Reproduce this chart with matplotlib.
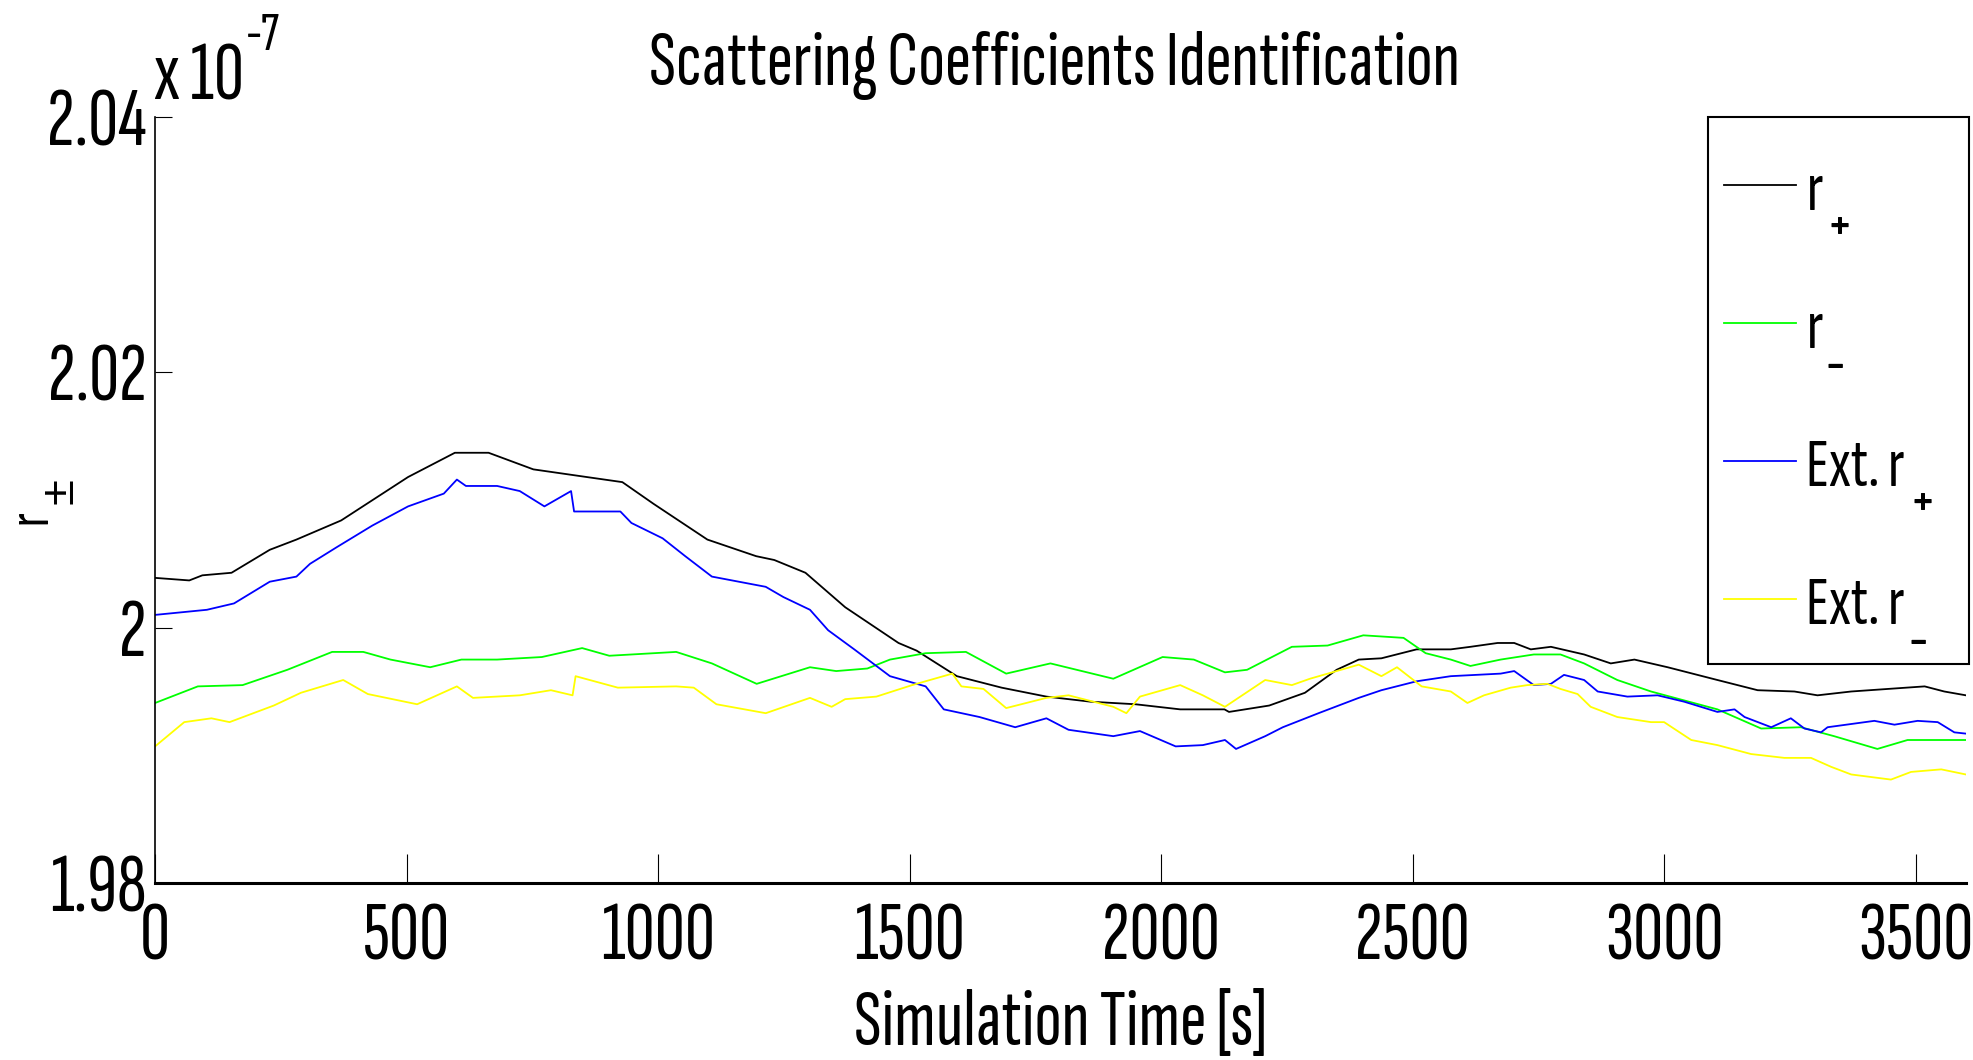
import matplotlib
matplotlib.use('Agg')
import matplotlib.pyplot as plt
import matplotlib.font_manager as fm
from matplotlib.patches import Rectangle
from matplotlib.transforms import IdentityTransform

# data (values in units of 1e-7)
t_rp = [0, 68, 94, 152, 228, 281, 370, 503, 596, 663, 752, 858, 929, 991, 1098, 1195, 1231, 1293,
        1372, 1478, 1514, 1594, 1683, 1772, 1860, 1949, 2038, 2126, 2135, 2215, 2286, 2349, 2393,
        2438, 2508, 2576, 2615, 2669, 2702, 2735, 2775, 2841, 2894, 2941, 3007, 3106, 3186, 3259,
        3305, 3372, 3518, 3557, 3600]
r_plus = [2.0039, 2.0037, 2.0041, 2.0043, 2.0061, 2.0069, 2.0084, 2.0118, 2.0137, 2.0137, 2.0124,
          2.0118, 2.0114, 2.0097, 2.0069, 2.0056, 2.0053, 2.0043, 2.0016, 1.9988, 1.9982, 1.9962,
          1.9953, 1.9946, 1.9942, 1.9940, 1.9936, 1.9936, 1.9934, 1.9939, 1.9949, 1.9967, 1.9975,
          1.9976, 1.9983, 1.9983, 1.9985, 1.9988, 1.9988, 1.9983, 1.9985, 1.9979, 1.9972, 1.9975,
          1.9969, 1.9959, 1.9951, 1.9950, 1.9947, 1.9950, 1.9954, 1.9950, 1.9947]

t_rm = [0, 85, 174, 263, 352, 414, 468, 547, 609, 680, 769, 849, 903, 1036, 1107, 1196, 1302, 1354,
        1416, 1461, 1532, 1612, 1692, 1780, 1905, 2003, 2065, 2127, 2171, 2260, 2331, 2402, 2482,
        2526, 2576, 2615, 2675, 2741, 2794, 2841, 2907, 2974, 3040, 3106, 3193, 3272, 3338, 3424,
        3484, 3600]
r_minus = [1.9941, 1.9954, 1.9955, 1.9967, 1.9981, 1.9981, 1.9975, 1.9969, 1.9975, 1.9975, 1.9977,
           1.9984, 1.9978, 1.9981, 1.9972, 1.9956, 1.9969, 1.9966, 1.9968, 1.9975, 1.9980, 1.9981,
           1.9964, 1.9972, 1.9960, 1.9977, 1.9975, 1.9965, 1.9967, 1.9985, 1.9986, 1.9994, 1.9992,
           1.9980, 1.9975, 1.9970, 1.9975, 1.9979, 1.9979, 1.9972, 1.9959, 1.9950, 1.9943, 1.9936,
           1.9921, 1.9922, 1.9915, 1.9905, 1.9912, 1.9912]

t_ep = [0, 103, 157, 228, 281, 308, 361, 432, 503, 574, 600, 618, 680, 725, 774, 827, 833, 925, 947,
        1009, 1054, 1107, 1214, 1249, 1302, 1338, 1390, 1461, 1532, 1568, 1639, 1710, 1772, 1816,
        1905, 1958, 2029, 2083, 2127, 2149, 2207, 2242, 2313, 2393, 2438, 2508, 2576, 2675, 2702,
        2741, 2775, 2801, 2841, 2868, 2927, 2987, 3040, 3106, 3140, 3160, 3213, 3252, 3279, 3312,
        3325, 3418, 3458, 3504, 3544, 3577, 3600]
ext_plus = [2.0010, 2.0014, 2.0019, 2.0036, 2.0040, 2.0050, 2.0063, 2.0080, 2.0095, 2.0105, 2.0116,
            2.0111, 2.0111, 2.0107, 2.0095, 2.0107, 2.0091, 2.0091, 2.0082, 2.0070, 2.0056, 2.0040,
            2.0032, 2.0024, 2.0014, 1.9998, 1.9983, 1.9962, 1.9954, 1.9936, 1.9930, 1.9922, 1.9929,
            1.9920, 1.9915, 1.9919, 1.9907, 1.9908, 1.9912, 1.9905, 1.9915, 1.9922, 1.9933, 1.9945,
            1.9951, 1.9958, 1.9962, 1.9964, 1.9966, 1.9955, 1.9956, 1.9963, 1.9959, 1.9950, 1.9946,
            1.9947, 1.9942, 1.9934, 1.9936, 1.9930, 1.9922, 1.9929, 1.9921, 1.9918, 1.9922, 1.9927,
            1.9924, 1.9927, 1.9926, 1.9918, 1.9917]

t_em = [0, 58, 112, 148, 236, 290, 374, 423, 521, 600, 632, 725, 787, 830, 836, 920, 1036, 1071,
        1116, 1214, 1302, 1345, 1372, 1434, 1505, 1585, 1603, 1647, 1692, 1772, 1816, 1905, 1931,
        1958, 2038, 2083, 2127, 2207, 2260, 2296, 2393, 2438, 2469, 2518, 2576, 2609, 2642, 2695,
        2728, 2768, 2794, 2828, 2854, 2907, 2974, 3000, 3054, 3106, 3173, 3239, 3292, 3332, 3372,
        3451, 3491, 3551, 3600]
ext_minus = [1.9907, 1.9926, 1.9929, 1.9926, 1.9939, 1.9949, 1.9959, 1.9948, 1.9940, 1.9954, 1.9945,
             1.9947, 1.9951, 1.9947, 1.9962, 1.9953, 1.9954, 1.9953, 1.9940, 1.9933, 1.9945, 1.9938,
             1.9944, 1.9946, 1.9955, 1.9964, 1.9954, 1.9952, 1.9937, 1.9945, 1.9947, 1.9938, 1.9933,
             1.9946, 1.9955, 1.9947, 1.9938, 1.9959, 1.9955, 1.9960, 1.9971, 1.9962, 1.9969, 1.9954,
             1.9950, 1.9941, 1.9947, 1.9953, 1.9955, 1.9956, 1.9952, 1.9948, 1.9938, 1.9930, 1.9926,
             1.9926, 1.9912, 1.9908, 1.9901, 1.9898, 1.9898, 1.9891, 1.9885, 1.9881, 1.9887, 1.9889,
             1.9885]

x_ticks = [0, 500, 1000, 1500, 2000, 2500, 3000, 3500]
y_ticks = [1.98, 2.00, 2.02, 2.04]
y_ticklabels = ['1.98', '2', '2.02', '2.04']

# legend names: base text + subscript drawn MATLAB style (low, below the baseline)
leg_base = ['r', 'r', 'Ext. r', 'Ext. r']
leg_sub = ['+', '-', '+', '-']

names = {f.name for f in fm.fontManager.ttflist}
fam = 'Sofia Sans Extra Condensed'
if fam not in names:
    fam = 'Barlow Condensed' if 'Barlow Condensed' in names else 'Liberation Sans'
plt.rcParams['font.family'] = [fam, 'DejaVu Sans']

W, H = 1973, 1060
fig = plt.figure(figsize=(W / 100, H / 100), dpi=100)
ax = fig.add_axes([0.0786, 0.167, 0.9178, 0.7226])

ax.plot(t_rp, r_plus, color='k', lw=1.3, label=leg_base[0])
ax.plot(t_rm, r_minus, color='#00ff00', lw=1.3, label=leg_base[1])
ax.plot(t_ep, ext_plus, color='#0000ff', lw=1.3, label=leg_base[2])
ax.plot(t_em, ext_minus, color='#ffff00', lw=1.3, label=leg_base[3])

ax.set_xlim(0, 3600)
ax.set_ylim(1.98, 2.04)
ax.set_xticks(x_ticks)
ax.set_yticks(y_ticks)
ax.set_yticklabels(y_ticklabels)
ax.spines['top'].set_visible(False)
ax.spines['right'].set_visible(False)
ax.spines['bottom'].set_linewidth(2.2)
ax.spines['left'].set_linewidth(1.2)
ax.tick_params(axis='x', direction='in', length=21, width=0.8, labelsize=60, pad=14)
ax.tick_params(axis='y', direction='in', length=12, width=0.8, labelsize=60, pad=6)

fig.text(0.5345, 1 - 85 / H, 'Scattering Coefficients Identification', fontsize=57,
         ha='center', va='baseline')
ax.set_xlabel('Simulation Time [s]', fontsize=58)
ax.xaxis.set_label_coords(0.5, -(1045 - 883) / 766)
ax.xaxis.label.set_verticalalignment('baseline')
ax.set_ylabel('r', fontsize=42)
ax.yaxis.set_label_coords(-0.054, 0.478)
fig.text(60 / W, 1 - 491 / H, '\u00b1', fontsize=34, family='Liberation Sans', rotation=90,
         ha='center', va='center')
fig.text(154 / W, 1 - 100 / H, 'x 10', fontsize=60, ha='left', va='baseline')
fig.text(246 / W, 1 - 50 / H, '-7', fontsize=40, ha='left', va='baseline')

leg = ax.legend(loc='upper left', bbox_to_anchor=(1710 / W, 1 - 147 / H),
                bbox_transform=fig.transFigure, fontsize=50, frameon=False,
                handlelength=1.04, handletextpad=0.144, labelspacing=1.10,
                borderpad=0.2, borderaxespad=0)
# legend frame, MATLAB style (square, black)
fig.add_artist(Rectangle((1708 / W, 1 - 664 / H), (1969 - 1708) / W, (664 - 117) / H,
                         transform=fig.transFigure, fill=False, edgecolor='k', linewidth=1.5))

# place the subscripts under the end of each legend name
fig.canvas.draw()
renderer = fig.canvas.get_renderer()
for txt, base, sub in zip(leg.get_texts(), leg_base, leg_sub):
    bb = txt.get_window_extent(renderer)
    prop = txt.get_fontproperties()
    w_base = renderer.get_text_width_height_descent(base, prop, ismath=False)[0]
    lp_d = renderer.get_text_width_height_descent('lp', prop, ismath=False)[2]
    baseline = bb.y0 + lp_d
    fig.text(bb.x0 + w_base + 3, baseline - 20, sub, transform=IdentityTransform(),
             fontsize=48, ha='left', va='center')

fig.savefig('out.png', dpi=100)
